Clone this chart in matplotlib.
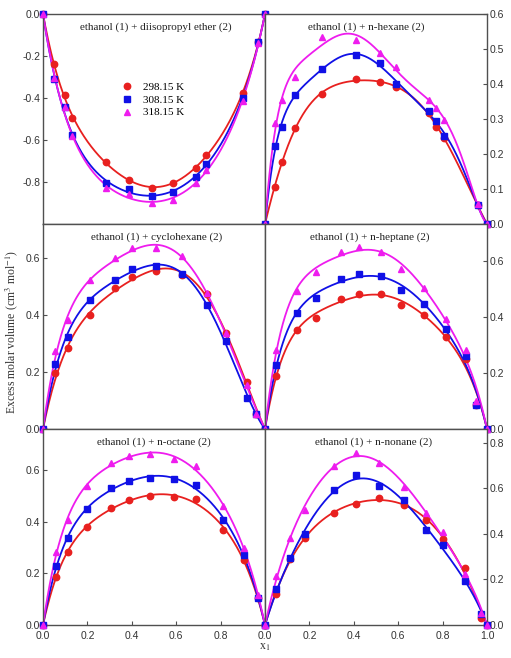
import numpy as np
import matplotlib.pyplot as plt

# mole fraction of ethanol and excess molar volumes
titles = ['ethanol (1) + diisopropyl ether (2)', 'ethanol (1) + n-hexane (2)',
          'ethanol (1) + cyclohexane (2)', 'ethanol (1) + n-heptane (2)',
          'ethanol (1) + n-octane (2)', 'ethanol (1) + n-nonane (2)']
temps = ['298.15 K', '308.15 K', '318.15 K']

x_dipe = [0, 0.050, 0.098, 0.129, 0.283, 0.388, 0.489, 0.585, 0.689, 0.732, 0.900, 0.970, 1]
v_dipe_298 = [0, -0.236, -0.386, -0.496, -0.704, -0.790, -0.827, -0.806, -0.735, -0.672, -0.378, -0.134, 0]
v_dipe_308 = [0, -0.310, -0.444, -0.575, -0.806, -0.833, -0.869, -0.849, -0.775, -0.712, -0.402, -0.134, 0]
v_dipe_318 = [0, -0.307, -0.444, -0.583, -0.830, -0.857, -0.898, -0.885, -0.806, -0.743, -0.413, -0.137, 0]

x_hex = [0, 0.045, 0.076, 0.136, 0.255, 0.412, 0.518, 0.588, 0.740, 0.770, 0.808, 0.958, 1]
v_hex_298 = [0, 0.107, 0.177, 0.274, 0.372, 0.413, 0.405, 0.392, 0.318, 0.276, 0.245, 0.053, 0]
v_hex_308 = [0, 0.223, 0.278, 0.369, 0.443, 0.482, 0.461, 0.400, 0.323, 0.293, 0.251, 0.055, 0]
v_hex_318 = [0, 0.288, 0.355, 0.420, 0.533, 0.525, 0.489, 0.448, 0.355, 0.331, 0.296, 0.058, 0]

x_chx = [0, 0.055, 0.114, 0.212, 0.323, 0.403, 0.507, 0.624, 0.737, 0.824, 0.919, 0.961, 1]
v_chx_298 = [0, 0.195, 0.283, 0.400, 0.494, 0.533, 0.554, 0.540, 0.475, 0.336, 0.166, 0.053, 0]
v_chx_308 = [0, 0.228, 0.324, 0.453, 0.523, 0.561, 0.572, 0.544, 0.437, 0.309, 0.110, 0.051, 0]
v_chx_318 = [0, 0.274, 0.382, 0.523, 0.599, 0.634, 0.637, 0.607, 0.476, 0.336, 0.154, 0.053, 0]

x_hep = [0, 0.048, 0.142, 0.230, 0.343, 0.423, 0.524, 0.612, 0.718, 0.814, 0.905, 0.952, 1]
v_hep_298 = [0, 0.190, 0.351, 0.397, 0.463, 0.480, 0.480, 0.442, 0.405, 0.329, 0.250, 0.086, 0]
v_hep_308 = [0, 0.227, 0.412, 0.466, 0.534, 0.552, 0.544, 0.495, 0.445, 0.357, 0.259, 0.086, 0]
v_hep_318 = [0, 0.283, 0.492, 0.558, 0.630, 0.648, 0.630, 0.570, 0.501, 0.393, 0.280, 0.098, 0]

x_oct = [0, 0.058, 0.113, 0.198, 0.308, 0.389, 0.484, 0.589, 0.687, 0.809, 0.906, 0.967, 1]
v_oct_298 = [0, 0.188, 0.283, 0.381, 0.455, 0.483, 0.500, 0.496, 0.487, 0.370, 0.253, 0.104, 0]
v_oct_308 = [0, 0.227, 0.338, 0.448, 0.532, 0.558, 0.571, 0.565, 0.542, 0.406, 0.273, 0.106, 0]
v_oct_318 = [0, 0.283, 0.409, 0.539, 0.627, 0.656, 0.665, 0.643, 0.616, 0.461, 0.299, 0.117, 0]

x_non = [0, 0.051, 0.112, 0.180, 0.313, 0.408, 0.514, 0.625, 0.724, 0.801, 0.900, 0.973, 1]
v_non_298 = [0, 0.138, 0.290, 0.381, 0.493, 0.532, 0.556, 0.528, 0.462, 0.378, 0.250, 0.032, 0]
v_non_308 = [0, 0.157, 0.293, 0.400, 0.591, 0.657, 0.609, 0.550, 0.415, 0.353, 0.194, 0.047, 0]
v_non_318 = [0, 0.216, 0.381, 0.506, 0.699, 0.756, 0.713, 0.606, 0.491, 0.407, 0.224, 0.054, 0]

panels = [
    (x_dipe, [v_dipe_298, v_dipe_308, v_dipe_318]),
    (x_hex, [v_hex_298, v_hex_308, v_hex_318]),
    (x_chx, [v_chx_298, v_chx_308, v_chx_318]),
    (x_hep, [v_hep_298, v_hep_308, v_hep_318]),
    (x_oct, [v_oct_298, v_oct_308, v_oct_318]),
    (x_non, [v_non_298, v_non_308, v_non_318]),
]

colors = ['#e8201f', '#1010e6', '#ee1cee']
markers = ['o', 's', '^']


def redlich_kister(x, v, n=5):
    # least squares Redlich-Kister fit of the measured points
    x = np.asarray(x, float)
    v = np.asarray(v, float)
    inner = (x > 0) & (x < 1)
    xi = x[inner]
    A = np.column_stack([xi * (1 - xi) * (2 * xi - 1) ** k for k in range(n)])
    coef, *_ = np.linalg.lstsq(A, v[inner], rcond=None)
    xf = np.linspace(0, 1, 300)
    vf = xf * (1 - xf) * sum(c * (2 * xf - 1) ** k for k, c in enumerate(coef))
    return xf, vf


plt.rcParams['font.family'] = 'Liberation Sans'
plt.rcParams['mathtext.fontset'] = 'stix'
serif = 'Liberation Serif'
fig = plt.figure(figsize=(5.11, 6.58), dpi=100)

W, H = 511, 658
cols = [43, 265]
rows = [(14, 224), (224, 429), (429, 625)]
ylims = [(-1.0, 0.0), (0, 0.6), (0, 0.72), (0, 0.73), (0, 0.76), (0, 0.86)]
yticks = [[-0.8, -0.6, -0.4, -0.2, 0.0], [0.0, 0.1, 0.2, 0.3, 0.4, 0.5, 0.6],
          [0.0, 0.2, 0.4, 0.6], [0.0, 0.2, 0.4, 0.6],
          [0.0, 0.2, 0.4, 0.6], [0.0, 0.2, 0.4, 0.6, 0.8]]
rk_terms = [5, 6, 5, 5, 5, 5]
title_x = [0.51, 0.455, 0.51, 0.47, 0.50, 0.49]
edge = '#505050'

for i, (x, series) in enumerate(panels):
    r, c = divmod(i, 2)
    top, bot = rows[r]
    ax = fig.add_axes([cols[c] / W, 1 - bot / H, 222 / W, (bot - top) / H])
    for v, col, m, lab in zip(series, colors, markers, temps):
        xf, vf = redlich_kister(x, v, rk_terms[i])
        ax.plot(xf, vf, color=col, lw=1.3, zorder=2)
        ax.plot(x, v, ls='none', marker=m, color=col, ms=4.6,
                clip_on=False, zorder=3, label=lab)
    ax.set_xlim(0, 1)
    ax.set_ylim(*ylims[i])
    ax.set_yticks(yticks[i])
    ax.set_yticklabels(['%.1f' % t for t in yticks[i]])
    if c == 1:
        ax.yaxis.tick_right()
    if r == 2:
        xt = [0.0, 0.2, 0.4, 0.6, 0.8, 1.0] if c == 1 else [0.0, 0.2, 0.4, 0.6, 0.8]
        ax.set_xticks(xt)
        ax.set_xticklabels(['%.1f' % t for t in xt])
    else:
        ax.set_xticks([])
    ax.tick_params(direction='in', length=3, width=0.8, labelsize=7.5,
                   colors=edge, labelcolor='#333333', pad=2)
    ax.tick_params(axis='x', pad=4)
    for s in ax.spines.values():
        s.set_color(edge)
        s.set_linewidth(1.0)
    ax.text(title_x[i], 1 - 13 / (bot - top), titles[i], transform=ax.transAxes,
            ha='center', va='center', fontsize=8, family=serif, color='#222222')
    if i == 0:
        ax.legend(loc='upper left', bbox_to_anchor=(0.33, 0.70), frameon=False,
                  prop={'family': serif, 'size': 8}, handletextpad=0.9,
                  labelspacing=0.25, handlelength=1.0, borderpad=0)

fig.text(12 / W, 1 - 332 / H, 'Excess molar volume (cm$^3$ mol$^{-1}$)', rotation=90,
         ha='center', va='center', fontsize=8.5, family=serif, color='#333333')
fig.text(265 / W, 1 - 647 / H, 'x$_1$', ha='center', va='center',
         fontsize=8.5, family=serif, color='#333333')

fig.savefig('out.png', dpi=100)
